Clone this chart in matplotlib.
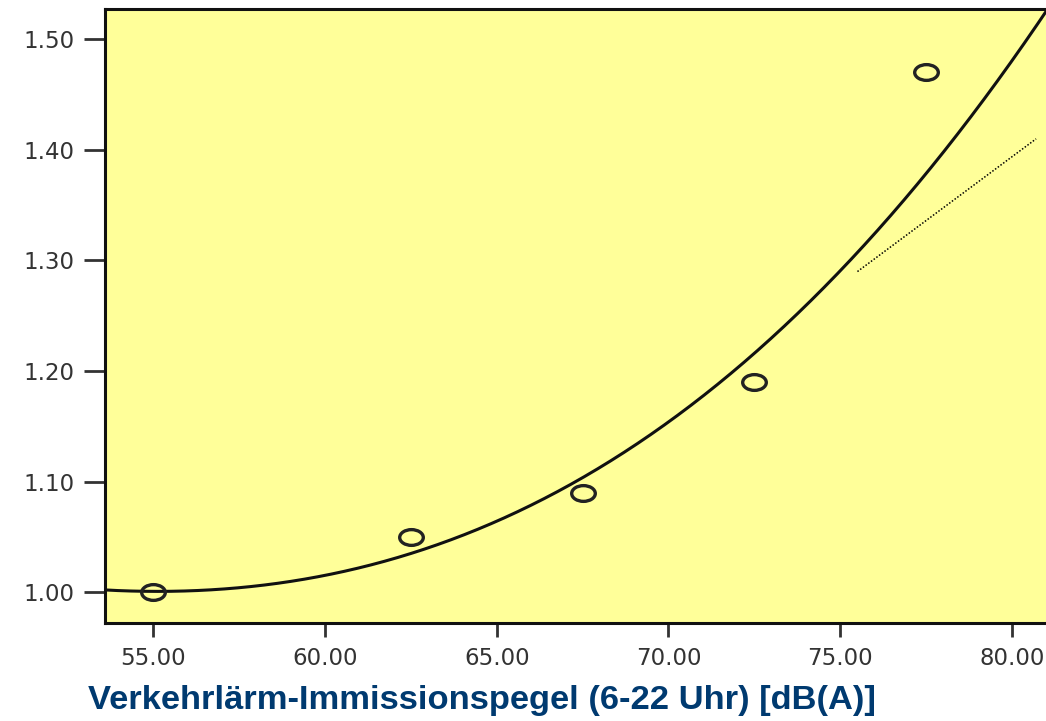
import numpy as np
import matplotlib.pyplot as plt
from matplotlib.path import Path
from matplotlib.transforms import Affine2D

# Messpunkte (Mittelwerte je Pegelklasse)
pegel = [55.0, 62.5, 67.5, 72.5, 77.5]
risiko = [1.00, 1.05, 1.09, 1.19, 1.47]

# Anpassungskurve
kurve_x = [53.61, 54.92, 56.37, 57.84, 59.28, 60.74, 62.19, 65.10, 67.04,
           68.00, 69.47, 72.37, 74.30, 75.86, 78.08, 80.88]
kurve_y = [1.0036, 1.0005, 1.0010, 1.0036, 1.0096, 1.0202, 1.0337, 1.0669,
           1.0986, 1.1121, 1.1438, 1.2071, 1.2673, 1.3170, 1.4089, 1.5175]

# gepunktete Hilfslinie
hilfs_x = [75.5, 80.7]
hilfs_y = [1.29, 1.41]

x_ticks = [55, 60, 65, 70, 75, 80]
y_ticks = [1.00, 1.10, 1.20, 1.30, 1.40, 1.50]
xlabel = 'Verkehrlärm-Immissionspegel (6-22 Uhr) [dB(A)]'

fig = plt.figure(figsize=(10.46, 7.21), dpi=100)
ax = fig.add_axes([0.1004, 0.1359, 0.9197, 0.8516])
ax.set_facecolor('#ffff99')

koef = np.polyfit(kurve_x, kurve_y, 3)
xs = np.linspace(53.0, 82.0, 300)
ax.plot(xs, np.polyval(koef, xs), color='#111111', lw=2.2, zorder=2)

# Kreise sind im Original horizontal gestreckt
ellipse = Path.unit_circle().transformed(Affine2D().scale(1.5, 1.0))
ax.plot(pegel, risiko, linestyle='none', marker=ellipse, ms=17,
        mfc='none', mec='#222222', mew=2.4, zorder=3)

ax.plot(hilfs_x, hilfs_y, color='black', lw=1.1, ls=(0, (1, 1.2)), zorder=2)

ax.set_xlim(53.6, 81.6)
ax.set_ylim(0.9722, 1.5274)
ax.set_xticks(x_ticks)
ax.set_xticklabels(['%.2f' % v for v in x_ticks])
ax.set_yticks(y_ticks)
ax.set_yticklabels(['%.2f' % v for v in y_ticks])

for s in ax.spines.values():
    s.set_linewidth(2.2)
    s.set_color('#111111')

ax.tick_params(axis='y', length=15, width=2, color='#333333', pad=7,
               labelsize=16.5, labelcolor='#333333')
ax.tick_params(axis='x', length=10, width=2, color='#333333', pad=7,
               labelsize=16.5, labelcolor='#333333')
for lab in ax.get_xticklabels() + ax.get_yticklabels():
    lab.set_family('DejaVu Sans')

fig.text(0.084, 0.029, xlabel, fontsize=24.8, fontweight='bold',
         color='#003a70', family='Liberation Sans', va='center', ha='left')

fig.savefig('out.png', dpi=100)
